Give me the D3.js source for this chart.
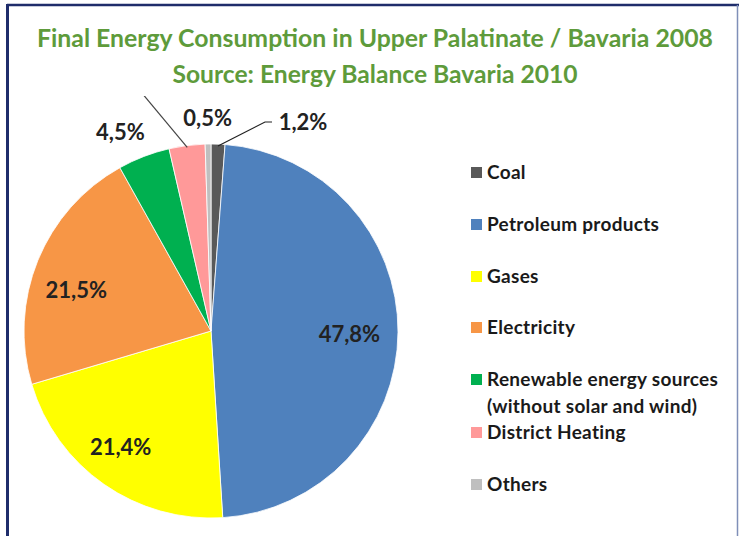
<!DOCTYPE html>
<html>
<head>
<meta charset="utf-8">
<script src="https://cdn.jsdelivr.net/npm/d3@7"></script>
<style>
  body { margin: 0; background: #fff; }
  svg { display: block; font-family: Lato, "Open Sans", sans-serif; }
</style>
</head>
<body>
<svg id="chart" width="739" height="536"></svg>
<script>
// data
const categories = ["Coal", "Petroleum products", "Gases", "Electricity",
  "Renewable energy sources|(without solar and wind)", "District Heating", "Others"];
const shares = [1.2, 47.8, 21.4, 21.5, 4.5, 3.1, 0.5];
const labels = ["1,2%", "47,8%", "21,4%", "21,5%", "4,5%", "", "0,5%"];
const colors = ["#595959", "#4F81BD", "#FFFF00", "#F79646", "#00B050", "#FF9999", "#BFBFBF"];
const titleLines = ["Final Energy Consumption in Upper Palatinate / Bavaria 2008",
  "Source: Energy Balance Bavaria 2010"];

const svg = d3.select("#chart");

// frame
svg.append("line").attr("x1", 7).attr("y1", 5).attr("x2", 739).attr("y2", 5)
  .attr("stroke", "#1F2D6B").attr("stroke-width", 2.5);
svg.append("line").attr("x1", 7.5).attr("y1", 4).attr("x2", 7.5).attr("y2", 536)
  .attr("stroke", "#1F2D6B").attr("stroke-width", 3);
svg.append("line").attr("x1", 737.5).attr("y1", 5).attr("x2", 737.5).attr("y2", 536)
  .attr("stroke", "#7F8FB8").attr("stroke-width", 1.5);

// title
svg.selectAll(".title")
  .data(titleLines)
  .enter().append("text")
  .attr("class", "title")
  .attr("x", 375)
  .attr("y", (d, i) => 47 + i * 36)
  .attr("text-anchor", "middle")
  .attr("textLength", (d, i) => i === 0 ? 676 : 405)
  .attr("lengthAdjust", "spacingAndGlyphs")
  .style("font-size", "24px")
  .style("font-weight", "bold")
  .style("fill", "#5E9B3B")
  .text(d => d);

// pie
const cx = 211, cy = 331, radius = 187;
const pie = d3.pie().sort(null).value(d => d)
  .startAngle(0).endAngle(2 * Math.PI);
const arcs = pie(shares);
const arc = d3.arc().innerRadius(0).outerRadius(radius);

const plot = svg.append("g");
plot.append("clipPath").attr("id", "plotclip")
  .append("rect").attr("x", 10).attr("y", 96).attr("width", 720).attr("height", 440);

const g = plot.append("g")
  .attr("clip-path", "url(#plotclip)")
  .append("g")
  .attr("transform", `translate(${cx},${cy})`);

g.selectAll(".slice")
  .data(arcs)
  .enter().append("path")
  .attr("class", "slice")
  .attr("d", arc)
  .attr("fill", (d, i) => colors[i])
  .attr("stroke", "#fff")
  .attr("stroke-width", 0.8);

// label radius factor per slice (inside for big ones, outside for small)
const labelRadius = [1.15, 0.74, 0.76, 0.72, 1.17, 1.35, 1.14];
// small nudges, like Excel's best-fit placement
const labelNudge = [[0, 0], [0, 2], [-9, 0], [-10, 10], [-12, 5], [0, 0], [0, 0]];
function pos(d, k) {
  const a = (d.startAngle + d.endAngle) / 2;
  return [Math.sin(a) * radius * k, -Math.cos(a) * radius * k];
}

// leader lines for coal and district heating
const coalA = (arcs[0].startAngle + arcs[0].endAngle) / 2;
const coalStart = [Math.sin(coalA) * radius * 0.99, -Math.cos(coalA) * radius * 0.99];
g.append("polyline")
  .attr("points", [coalStart, [54, -209], [61, -209]].map(p => p.join(",")).join(" "))
  .attr("fill", "none").attr("stroke", "#222").attr("stroke-width", 1.2);

const dhA = (arcs[5].startAngle + arcs[5].endAngle) / 2;
const dhStart = [Math.sin(dhA) * radius * 0.99, -Math.cos(dhA) * radius * 0.99];
g.append("line")
  .attr("x1", dhStart[0]).attr("y1", dhStart[1])
  .attr("x2", dhStart[0] - 50).attr("y2", dhStart[1] - 60)
  .attr("stroke", "#444").attr("stroke-width", 1.2);

g.selectAll(".plabel")
  .data(arcs)
  .enter().append("text")
  .attr("class", "plabel")
  .attr("x", (d, i) => (i === 0 ? 92 : pos(d, labelRadius[i])[0]) + labelNudge[i][0])
  .attr("y", (d, i) => (i === 0 ? -209 : pos(d, labelRadius[i])[1]) + labelNudge[i][1])
  .attr("dy", "0.36em")
  .attr("text-anchor", "middle")
  .style("font-size", "22px")
  .style("font-weight", "bold")
  .style("fill", "#222")
  .text((d, i) => labels[i]);

// legend
const legendY = [172, 224, 276, 327, 379, 432, 484];
const legend = svg.append("g").attr("transform", "translate(471,0)");
const item = legend.selectAll(".item")
  .data(categories)
  .enter().append("g")
  .attr("class", "item")
  .attr("transform", (d, i) => `translate(0,${legendY[i]})`);
item.append("rect")
  .attr("x", 0).attr("y", -5).attr("width", 11).attr("height", 11)
  .attr("fill", (d, i) => colors[i]);
item.each(function(d) {
  const parts = d.split("|");
  d3.select(this).selectAll("text")
    .data(parts)
    .enter().append("text")
    .attr("x", 16)
    .attr("y", (p, j) => j * 27)
    .attr("dy", "0.36em")
    .style("font-size", "19px")
    .style("font-weight", "bold")
    .style("letter-spacing", "0.3px")
    .style("fill", "#1a1a1a")
    .text(p => p);
});
</script>
</body>
</html>
